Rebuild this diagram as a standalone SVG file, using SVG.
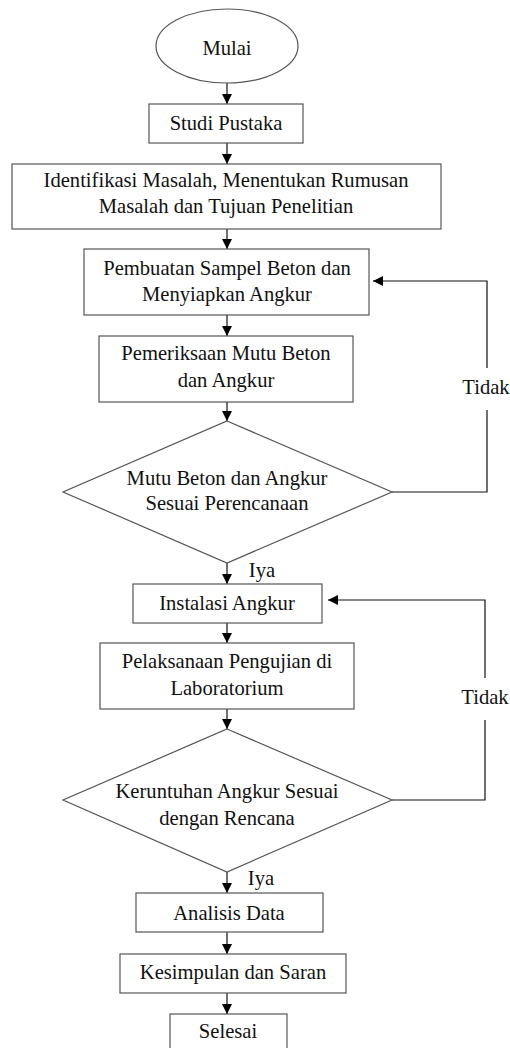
<svg xmlns="http://www.w3.org/2000/svg" width="510" height="1048" viewBox="0 0 510 1048">
<defs>
<marker id="ah" markerUnits="userSpaceOnUse" markerWidth="10" markerHeight="10" refX="10" refY="5" orient="auto">
<path d="M0,0 L10,5 L0,10 z" fill="#000"/>
</marker>
<style>
.n{fill:#fff;stroke:#555;stroke-width:1.2}
.t{font-family:"Liberation Serif","Times New Roman",serif;font-size:20.6px;fill:#111;text-anchor:middle}
.c{fill:none;stroke:#111;stroke-width:1.2}
.a{marker-end:url(#ah)}
</style>
</defs>
<rect width="510" height="1048" fill="#fff"/>
<g id="connectors">
<line class="c a" x1="227" y1="83" x2="227" y2="104"/>
<line class="c a" x1="227" y1="143" x2="227" y2="164"/>
<line class="c a" x1="227" y1="229" x2="227" y2="249"/>
<line class="c a" x1="227" y1="315" x2="227" y2="336"/>
<line class="c a" x1="227" y1="402" x2="227" y2="421"/>
<line class="c a" x1="227" y1="563" x2="227" y2="584"/>
<line class="c a" x1="227" y1="623" x2="227" y2="643"/>
<line class="c a" x1="227" y1="709" x2="227" y2="729"/>
<line class="c a" x1="227" y1="872" x2="227" y2="893"/>
<line class="c a" x1="227" y1="932" x2="227" y2="954"/>
<line class="c a" x1="227" y1="993" x2="227" y2="1014"/>
<path class="c" d="M392,492 H487 V410"/>
<path class="c a" d="M487,368 V281 H373"/>
<path class="c" d="M392,800 H485 V720"/>
<path class="c a" d="M485,678 V600 H328"/>
<text class="t" x="486" y="394">Tidak</text>
<text class="t" x="485" y="704">Tidak</text>
<text class="t" x="262" y="577">Iya</text>
<text class="t" x="261" y="885">Iya</text>
</g>
<g id="mulai">
<ellipse class="n" cx="227" cy="46" rx="71" ry="37"/>
<text class="t" x="227" y="55">Mulai</text>
</g>
<g id="studi">
<rect class="n" x="149" y="104" width="154" height="39"/>
<text class="t" x="226" y="130">Studi Pustaka</text>
</g>
<g id="identifikasi">
<rect class="n" x="12" y="164" width="429" height="65"/>
<text class="t" x="226" y="187">Identifikasi Masalah, Menentukan Rumusan</text>
<text class="t" x="226" y="213">Masalah dan Tujuan Penelitian</text>
</g>
<g id="pembuatan">
<rect class="n" x="84" y="249" width="285" height="66"/>
<text class="t" x="227" y="275">Pembuatan Sampel Beton dan</text>
<text class="t" x="227" y="301">Menyiapkan Angkur</text>
</g>
<g id="pemeriksaan">
<rect class="n" x="99" y="336" width="254" height="66"/>
<text class="t" x="226" y="360">Pemeriksaan Mutu Beton</text>
<text class="t" x="226" y="387">dan Angkur</text>
</g>
<g id="keputusan1">
<polygon class="n" points="227,421 392,492 227,563 63,492"/>
<text class="t" x="227" y="485">Mutu Beton dan Angkur</text>
<text class="t" x="227" y="510">Sesuai Perencanaan</text>
</g>
<g id="instalasi">
<rect class="n" x="133" y="584" width="189" height="39"/>
<text class="t" x="227" y="610">Instalasi Angkur</text>
</g>
<g id="pelaksanaan">
<rect class="n" x="100" y="643" width="254" height="66"/>
<text class="t" x="227" y="668">Pelaksanaan Pengujian di</text>
<text class="t" x="227" y="695">Laboratorium</text>
</g>
<g id="keputusan2">
<polygon class="n" points="227,729 392,800 227,872 63,800"/>
<text class="t" x="227" y="798">Keruntuhan Angkur Sesuai</text>
<text class="t" x="227" y="825">dengan Rencana</text>
</g>
<g id="analisis">
<rect class="n" x="136" y="893" width="187" height="39"/>
<text class="t" x="229" y="920">Analisis Data</text>
</g>
<g id="kesimpulan">
<rect class="n" x="120" y="954" width="226" height="39"/>
<text class="t" x="233" y="979">Kesimpulan dan Saran</text>
</g>
<g id="selesai">
<rect class="n" x="170" y="1014" width="117" height="50"/>
<text class="t" x="228" y="1038">Selesai</text>
</g>
</svg>
